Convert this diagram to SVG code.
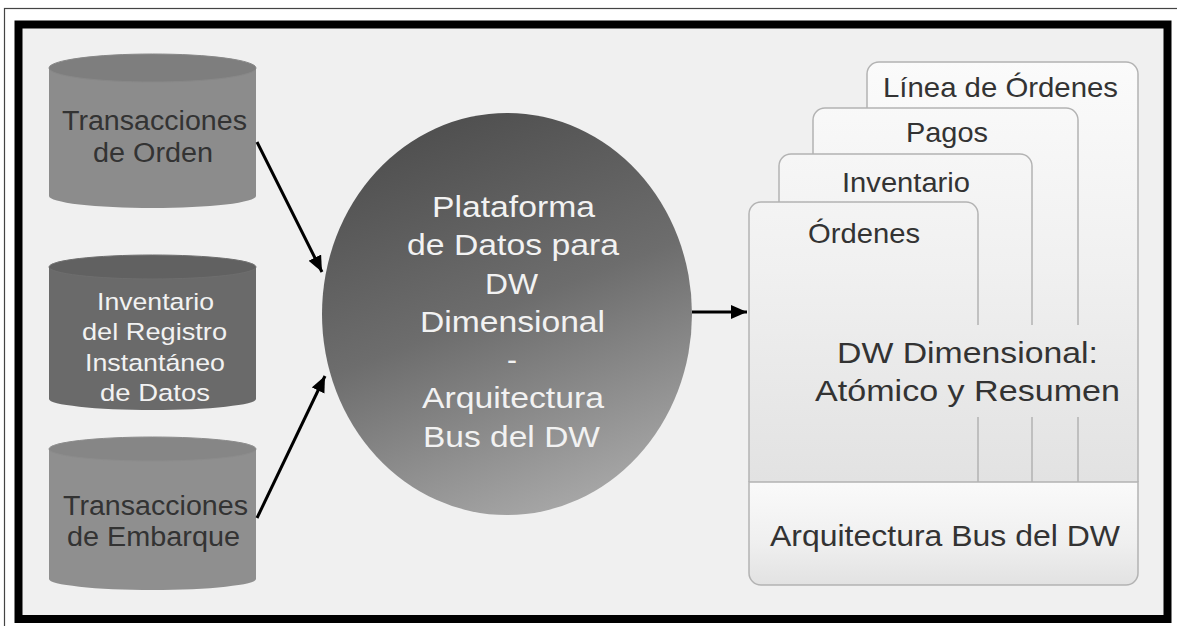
<svg xmlns="http://www.w3.org/2000/svg" width="1177" height="626" viewBox="0 0 1177 626">
  <defs>
    <linearGradient id="circleGrad" x1="0.25" y1="0.02" x2="0.6" y2="1">
      <stop offset="0" stop-color="#4e4e4e"/>
      <stop offset="0.5" stop-color="#6d6d6d"/>
      <stop offset="1" stop-color="#a6a6a6"/>
    </linearGradient>
    <linearGradient id="panelGrad" gradientUnits="userSpaceOnUse" x1="0" y1="60" x2="0" y2="482">
      <stop offset="0" stop-color="#fbfbfb"/>
      <stop offset="0.5" stop-color="#f0f0f0"/>
      <stop offset="1" stop-color="#e2e2e2"/>
    </linearGradient>
    <linearGradient id="busGrad" gradientUnits="userSpaceOnUse" x1="0" y1="482" x2="0" y2="585">
      <stop offset="0" stop-color="#fafafa"/>
      <stop offset="0.6" stop-color="#efefef"/>
      <stop offset="1" stop-color="#e2e2e2"/>
    </linearGradient>
    <marker id="arrow" markerUnits="userSpaceOnUse" markerWidth="18" markerHeight="16" refX="16" refY="7" orient="auto">
      <path d="M0,0 L16,7 L0,14 Z" fill="#000"/>
    </marker>
  </defs>
  <style>
    .dark { font-family: "Liberation Sans", Arial, sans-serif; fill: #333333; }
    .light { font-family: "Liberation Sans", Arial, sans-serif; fill: #f2f2f2; }
    .panel { fill: url(#panelGrad); stroke: #b3b3b3; stroke-width: 1.5; }
    .edge { fill: none; stroke: #b3b3b3; stroke-width: 1.5; }
    .conn { stroke: #000; stroke-width: 3; fill: none; marker-end: url(#arrow); }
  </style>

  <!-- frame -->
  <rect x="4.5" y="8.5" width="1200" height="640" fill="#ffffff" stroke="#444" stroke-width="1.2"/>
  <rect x="18.5" y="24.5" width="1149" height="594.5" fill="#f0f0f0" stroke="#000" stroke-width="8"/>

  <!-- sources -->
  <g id="cyl-orden">
    <path d="M49,68 V196 A103.5,12 0 0 0 256,196 V68 Z" fill="#8c8c8c"/>
    <ellipse cx="152.5" cy="68" rx="103.5" ry="14" fill="#7e7e7e" stroke="#888" stroke-width="1"/>
    <text class="dark" x="62" y="130" font-size="27" textLength="185" lengthAdjust="spacingAndGlyphs">Transacciones</text>
    <text class="dark" x="93" y="162" font-size="27" textLength="120" lengthAdjust="spacingAndGlyphs">de Orden</text>
  </g>
  <g id="cyl-inventario">
    <path d="M49,267 V399 A103.5,11 0 0 0 256,399 V267 Z" fill="#6a6a6a"/>
    <ellipse cx="152.5" cy="267" rx="103.5" ry="12" fill="#616161" stroke="#6e6e6e" stroke-width="1"/>
    <text class="light" x="97" y="310" font-size="24.5" textLength="117" lengthAdjust="spacingAndGlyphs">Inventario</text>
    <text class="light" x="82" y="340" font-size="24.5" textLength="145" lengthAdjust="spacingAndGlyphs">del Registro</text>
    <text class="light" x="85" y="371" font-size="24.5" textLength="140" lengthAdjust="spacingAndGlyphs">Instantáneo</text>
    <text class="light" x="100" y="401" font-size="24.5" textLength="110" lengthAdjust="spacingAndGlyphs">de Datos</text>
  </g>
  <g id="cyl-embarque">
    <path d="M49,449 V579 A103.5,11 0 0 0 256,579 V449 Z" fill="#8f8f8f"/>
    <ellipse cx="152.5" cy="449" rx="103.5" ry="12" fill="#868686" stroke="#8c8c8c" stroke-width="1"/>
    <text class="dark" x="63" y="515" font-size="27" textLength="185" lengthAdjust="spacingAndGlyphs">Transacciones</text>
    <text class="dark" x="67" y="546" font-size="27" textLength="173" lengthAdjust="spacingAndGlyphs">de Embarque</text>
  </g>

  <!-- central platform -->
  <g id="plataforma">
    <ellipse cx="507" cy="314" rx="185" ry="201" fill="url(#circleGrad)"/>
    <text class="light" x="432" y="217" font-size="30" textLength="163" lengthAdjust="spacingAndGlyphs">Plataforma</text>
    <text class="light" x="407" y="255" font-size="30" textLength="212" lengthAdjust="spacingAndGlyphs">de Datos para</text>
    <text class="light" x="485" y="294" font-size="30" textLength="53" lengthAdjust="spacingAndGlyphs">DW</text>
    <text class="light" x="420" y="332" font-size="30" textLength="185" lengthAdjust="spacingAndGlyphs">Dimensional</text>
    <text class="light" x="512" y="370" font-size="30" text-anchor="middle">-</text>
    <text class="light" x="422" y="408" font-size="30" textLength="182" lengthAdjust="spacingAndGlyphs">Arquitectura</text>
    <text class="light" x="423" y="447" font-size="30" textLength="177" lengthAdjust="spacingAndGlyphs">Bus del DW</text>
  </g>

  <!-- DW dimensional stack -->
  <g id="dw-dimensional">
    <path class="panel" d="M867,482 V74 A12,12 0 0 1 879,62 H1126 A12,12 0 0 1 1138,74 V482"/>
    <text class="dark" x="883" y="97" font-size="27.5" textLength="235" lengthAdjust="spacingAndGlyphs">Línea de Órdenes</text>

    <path d="M813,482 V120 A12,12 0 0 1 825,108 H1066 A12,12 0 0 1 1078,120 V482 Z" fill="url(#panelGrad)"/>
    <path class="edge" d="M813,482 V120 A12,12 0 0 1 825,108 H1066 A12,12 0 0 1 1078,120 V325 M1078,417 V482"/>
    <text class="dark" x="906" y="142" font-size="27.5" textLength="82" lengthAdjust="spacingAndGlyphs">Pagos</text>

    <path d="M779,482 V166 A12,12 0 0 1 791,154 H1020 A12,12 0 0 1 1032,166 V482 Z" fill="url(#panelGrad)"/>
    <path class="edge" d="M779,482 V166 A12,12 0 0 1 791,154 H1020 A12,12 0 0 1 1032,166 V325 M1032,417 V482"/>
    <text class="dark" x="842" y="192" font-size="27.5" textLength="128" lengthAdjust="spacingAndGlyphs">Inventario</text>

    <path d="M749,482 V214 A12,12 0 0 1 761,202 H966 A12,12 0 0 1 978,214 V482 Z" fill="url(#panelGrad)"/>
    <path class="edge" d="M749,482 V214 A12,12 0 0 1 761,202 H966 A12,12 0 0 1 978,214 V325 M978,417 V482"/>
    <text class="dark" x="808" y="243" font-size="27.5" textLength="112" lengthAdjust="spacingAndGlyphs">Órdenes</text>

    <text class="dark" x="837" y="363" font-size="30" textLength="261" lengthAdjust="spacingAndGlyphs">DW Dimensional:</text>
    <text class="dark" x="815" y="401" font-size="30" textLength="305" lengthAdjust="spacingAndGlyphs">Atómico y Resumen</text>
  </g>
  <g id="bus-dw">
    <path d="M749,482 H1138 V573 A12,12 0 0 1 1126,585 H761 A12,12 0 0 1 749,573 Z" fill="url(#busGrad)" stroke="#b3b3b3" stroke-width="1.5"/>
    <text class="dark" x="770" y="546" font-size="30" textLength="350" lengthAdjust="spacingAndGlyphs">Arquitectura Bus del DW</text>
  </g>

  <!-- connectors -->
  <g id="connectors">
    <line class="conn" x1="257" y1="142" x2="322" y2="272"/>
    <line class="conn" x1="257" y1="518" x2="325" y2="376"/>
    <line class="conn" x1="692" y1="312" x2="747" y2="312"/>
  </g>
</svg>
